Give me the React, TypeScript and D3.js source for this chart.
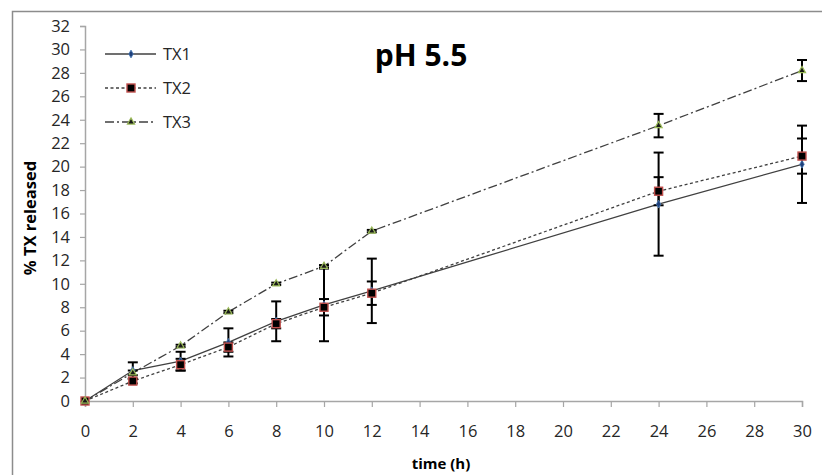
import React, { useRef, useEffect } from "react";
import * as d3 from "d3";

// sampling times (h)
const times = [0, 2, 4, 6, 8, 10, 12, 24, 30];

// % TX released
const tx1 = [0, 2.6, 3.4, 5.0, 6.8, 8.2, 9.4, 16.8, 20.2];
const tx2 = [0, 1.7, 3.1, 4.6, 6.6, 8.0, 9.2, 17.9, 20.9];
const tx3 = [0, 2.4, 4.7, 7.6, 10.0, 11.5, 14.5, 23.5, 28.2];

// standard deviations (error bars)
const tx1Err = [0, 0.7, 0.8, 1.2, 1.7, 3.1, 2.75, 4.4, 3.3];
const tx2Err = [0, 0.2, 0.5, 0.4, 0.4, 0.7, 1.0, 1.2, 1.5];
const tx3Err = [0, 0.2, 0.1, 0.1, 0.1, 0.1, 0.1, 1.0, 0.9];

const xTicks = d3.range(0, 31, 2);
const yTicks = d3.range(0, 33, 2);

const seriesNames = ["TX1", "TX2", "TX3"];

const FONT = "'Open Sans', sans-serif";

const App = () => {
  const svgRef = useRef<SVGSVGElement>(null);
  const width = 822;
  const height = 475;

  useEffect(() => {
    const svg = d3.select(svgRef.current);
    svg.selectAll("*").remove();

    const x = d3.scaleLinear().domain([0, 30]).range([85, 802]);
    const y = d3.scaleLinear().domain([0, 32]).range([401, 26]);

    // outer chart frame (runs off the right and bottom)
    svg
      .append("rect")
      .attr("x", 12.5)
      .attr("y", 11.5)
      .attr("width", 900)
      .attr("height", 600)
      .attr("fill", "white")
      .attr("stroke", "#8c8c8c")
      .attr("stroke-width", 1.5);

    const axisColor = "#a6a6a6";

    // y axis
    const yAxis = svg
      .append("g")
      .attr("transform", `translate(${x(0)},0)`)
      .call(d3.axisLeft(y).tickValues(yTicks).tickSize(5).tickPadding(10).tickFormat(d3.format("d")));
    yAxis.select(".domain").attr("stroke", axisColor).attr("stroke-width", 1.5);
    yAxis.selectAll(".tick line").attr("stroke", axisColor).attr("stroke-width", 1.2);
    yAxis
      .selectAll(".tick text")
      .attr("fill", "#262626")
      .style("font-family", FONT)
      .style("font-size", "16.5px");

    // x axis
    const xAxis = svg
      .append("g")
      .attr("transform", `translate(0,${y(0)})`)
      .call(d3.axisBottom(x).tickValues(xTicks).tickSize(6).tickPadding(18).tickFormat(d3.format("d")));
    xAxis.select(".domain").attr("stroke", axisColor).attr("stroke-width", 1.5);
    xAxis.selectAll(".tick line").attr("stroke", axisColor).attr("stroke-width", 1.2);
    xAxis
      .selectAll(".tick text")
      .attr("fill", "#262626")
      .style("font-family", FONT)
      .style("font-size", "16.5px");

    // axis titles
    svg
      .append("text")
      .attr("transform", "translate(36,218) rotate(-90)")
      .attr("text-anchor", "middle")
      .style("font-family", FONT)
      .style("font-size", "16.5px")
      .style("font-weight", "bold")
      .text("% TX released");

    svg
      .append("text")
      .attr("x", 441)
      .attr("y", 469)
      .attr("text-anchor", "middle")
      .style("font-family", FONT)
      .style("font-size", "15px")
      .style("font-weight", "bold")
      .text("time (h)");

    // chart title
    svg
      .append("text")
      .attr("x", 421)
      .attr("y", 66)
      .attr("text-anchor", "middle")
      .style("font-family", FONT)
      .style("font-size", "30px")
      .style("font-weight", "bold")
      .text("pH 5.5");

    const all = [
      { name: seriesNames[0], values: tx1, err: tx1Err, dash: null as string | null },
      { name: seriesNames[1], values: tx2, err: tx2Err, dash: "3,2.5" },
      { name: seriesNames[2], values: tx3, err: tx3Err, dash: "9,3,2,3" },
    ];

    const line = d3
      .line<number>()
      .x((d, i) => x(times[i]))
      .y((d) => y(d));

    // lines
    all.forEach((s) => {
      svg
        .append("path")
        .datum(s.values)
        .attr("fill", "none")
        .attr("stroke", "#404040")
        .attr("stroke-width", 1.3)
        .attr("stroke-dasharray", s.dash)
        .attr("d", line);
    });

    // error bars
    all.forEach((s) => {
      const g = svg.append("g");
      s.values.forEach((v, i) => {
        const e = s.err[i];
        if (e <= 0) return;
        const cx = x(times[i]);
        const top = y(v + e);
        const bot = y(v - e);
        g.append("line")
          .attr("x1", cx).attr("x2", cx).attr("y1", top).attr("y2", bot)
          .attr("stroke", "black").attr("stroke-width", 2);
        [top, bot].forEach((yy) =>
          g.append("line")
            .attr("x1", cx - 5).attr("x2", cx + 5).attr("y1", yy).attr("y2", yy)
            .attr("stroke", "black").attr("stroke-width", 2)
        );
      });
    });

    // markers
    const drawMarker = (g: any, idx: number, cx: number, cy: number) => {
      if (idx === 0) {
        g.append("path")
          .attr("d", d3.symbol(d3.symbolDiamond, 18)())
          .attr("transform", `translate(${cx},${cy})`)
          .attr("fill", "#1f3f7a")
          .attr("stroke", "#4f81bd")
          .attr("stroke-width", 0.8);
      } else if (idx === 1) {
        g.append("rect")
          .attr("x", cx - 4).attr("y", cy - 4).attr("width", 8).attr("height", 8)
          .attr("fill", "black")
          .attr("stroke", "#c0504d")
          .attr("stroke-width", 1.4);
      } else {
        g.append("path")
          .attr("d", d3.symbol(d3.symbolTriangle, 22)())
          .attr("transform", `translate(${cx},${cy})`)
          .attr("fill", "#1a1a1a")
          .attr("stroke", "#9bbb59")
          .attr("stroke-width", 1.2);
      }
    };

    all.forEach((s, idx) => {
      const g = svg.append("g");
      s.values.forEach((v, i) => drawMarker(g, idx, x(times[i]), y(v)));
    });

    // legend
    const legend = svg.append("g");
    const rows = [54, 88, 122];
    all.forEach((s, idx) => {
      legend
        .append("line")
        .attr("x1", 105).attr("x2", 156).attr("y1", rows[idx]).attr("y2", rows[idx])
        .attr("stroke", "#404040")
        .attr("stroke-width", 1.3)
        .attr("stroke-dasharray", s.dash);
      drawMarker(legend, idx, 131, rows[idx]);
      legend
        .append("text")
        .attr("x", 163)
        .attr("y", rows[idx] + 6)
        .attr("fill", "#262626")
        .style("font-family", FONT)
        .style("font-size", "16.5px")
        .text(s.name);
    });
  }, []);

  return (
    <svg
      ref={svgRef}
      width={width}
      height={height}
      style={{ position: "absolute", left: 0, top: 0, background: "white" }}
    ></svg>
  );
};

export default App;
